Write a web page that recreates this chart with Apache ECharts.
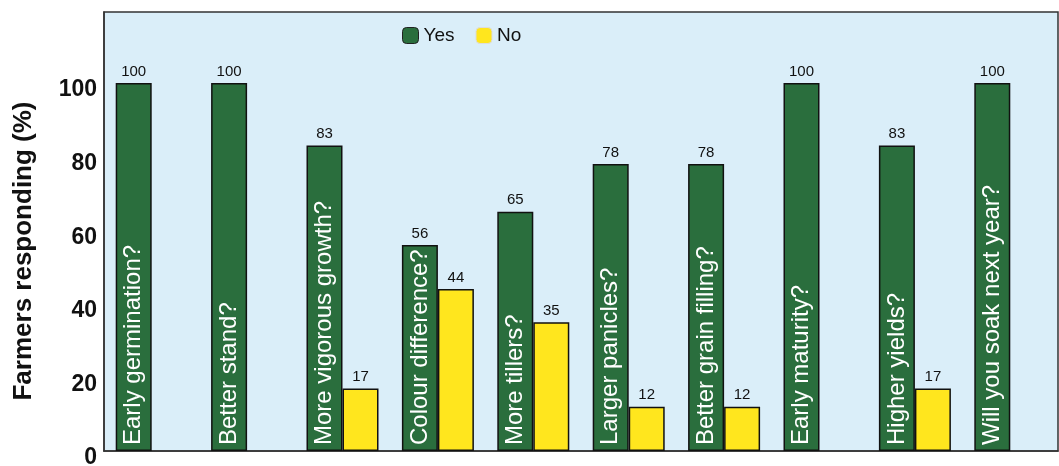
<!DOCTYPE html>
<html>
<head>
<meta charset="utf-8">
<script src="https://cdn.jsdelivr.net/npm/echarts@6/dist/echarts.min.js"></script>
<style>
  html, body { margin: 0; padding: 0; background: #fff; }
  #main { width: 1059px; height: 466px; }
</style>
</head>
<body>
<div id="main"></div>
<script>
// questions asked to farmers
var questions = ['Early germination?', 'Better stand?', 'More vigorous growth?', 'Colour difference?',
    'More tillers?', 'Larger panicles?', 'Better grain filling?', 'Early maturity?',
    'Higher yields?', 'Will you soak next year?'];
var yesValues = [100, 100, 83, 56, 65, 78, 78, 100, 83, 100];
var noValues = [0, 0, 17, 44, 35, 12, 12, 0, 17, 0];
var yTicks = [0, 20, 40, 60, 80, 100];

var fontName = 'Liberation Sans';
var green = '#2a6e3d';
var yellow = '#ffe61e';

var chart = echarts.init(document.getElementById('main'));

var option = {
    animation: false,
    textStyle: { fontFamily: fontName },
    grid: {
        left: 104, right: 1, top: 12, bottom: 15,
        outerBoundsMode: 'none',
        show: true,
        backgroundColor: '#daeef9',
        borderColor: '#333',
        borderWidth: 1.5
    },
    legend: {
        left: 397, top: 21,
        itemWidth: 16, itemHeight: 16, itemGap: 21,
        textStyle: { fontSize: 19, color: '#111', fontFamily: fontName },
        data: [
            { name: 'Yes', itemStyle: { color: green, borderColor: '#222', borderWidth: 1 } },
            { name: 'No', itemStyle: { color: yellow, borderColor: '#ddd', borderWidth: 1 } }
        ]
    },
    graphic: [{
        type: 'text',
        x: 24, y: 251,
        rotation: Math.PI / 2,
        style: {
            text: 'Farmers responding (%)',
            font: 'bold 26px ' + fontName,
            fill: '#111',
            textAlign: 'center',
            textVerticalAlign: 'middle'
        }
    }],
    xAxis: {
        type: 'category',
        data: questions,
        axisLine: { lineStyle: { color: '#333', width: 1.5 } },
        axisTick: { show: false },
        axisLabel: { show: false }
    },
    yAxis: {
        type: 'value',
        min: yTicks[0],
        max: 119.3,
        interval: yTicks[1] - yTicks[0],
        axisLine: { show: true, lineStyle: { color: '#333', width: 1.5 } },
        axisTick: { show: false },
        splitLine: { show: false },
        axisLabel: {
            showMaxLabel: false,
            margin: 7,
            formatter: '{t|{value}}',
            rich: {
                t: {
                    fontSize: 23, fontWeight: 'bold', color: '#111',
                    fontFamily: fontName,
                    padding: [14, 0, 0, 0]
                }
            }
        }
    },
    series: [
        {
            name: 'Yes',
            type: 'bar',
            barWidth: 36,
            barGap: '0%',
            data: yesValues,
            itemStyle: { color: green, borderColor: '#111', borderWidth: 1.5 },
            label: {
                show: true,
                position: 'insideBottom',
                rotate: 90,
                align: 'left',
                verticalAlign: 'middle',
                distance: 6,
                formatter: '{b}',
                color: '#fff',
                fontSize: 24,
                fontFamily: fontName
            },
            markPoint: {
                symbol: 'rect',
                symbolSize: 0,
                itemStyle: { color: 'transparent' },
                label: {
                    show: true,
                    position: 'top',
                    distance: 4,
                    color: '#111',
                    fontSize: 15,
                    fontFamily: fontName,
                    formatter: function (p) { return p.value; }
                },
                data: yesValues.map(function (v, i) {
                    return { coord: [questions[i], v], value: v };
                })
            }
        },
        {
            name: 'No',
            type: 'bar',
            barWidth: 36,
            data: noValues.map(function (v) { return v > 0 ? v : '-'; }),
            itemStyle: { color: yellow, borderColor: '#111', borderWidth: 1.5 },
            label: {
                show: true,
                position: 'top',
                distance: 4,
                color: '#111',
                fontSize: 15,
                fontFamily: fontName
            }
        }
    ]
};

chart.setOption(option);
</script>
</body>
</html>
